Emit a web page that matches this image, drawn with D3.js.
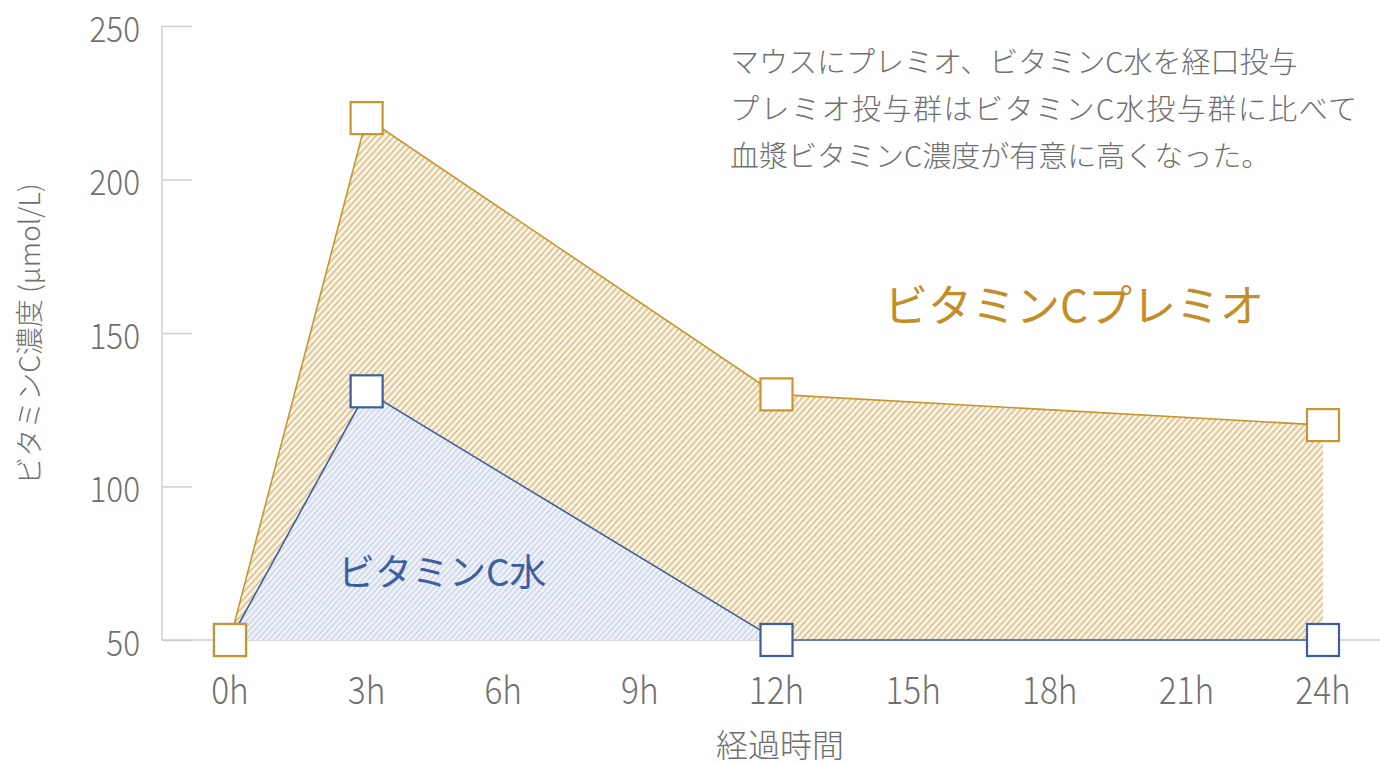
<!DOCTYPE html>
<html><head><meta charset="utf-8">
<script src="https://cdn.jsdelivr.net/npm/d3@7"></script>
<style>
html,body{margin:0;padding:0;background:#fff;}
svg{display:block;font-family:"Noto Sans CJK JP","Noto Sans",sans-serif;}
</style></head>
<body>
<svg id="chart" width="1380" height="765"></svg>
<script>
// ---- data ----
const hours = [0, 3, 12, 24];
const premioValues = [50, 220, 130, 120];
const waterValues = [50, 131, 50, 50];
const xTickValues = [0, 3, 6, 9, 12, 15, 18, 21, 24];
const yTickValues = [50, 100, 150, 200, 250];
const seriesNames = ["ビタミンCプレミオ", "ビタミンC水"];
const noteLines = [
  "マウスにプレミオ、ビタミンC水を経口投与",
  "プレミオ投与群はビタミンC水投与群に比べて",
  "血漿ビタミンC濃度が有意に高くなった。"
];
const xTitle = "経過時間";
const yTitle = "ビタミンC濃度 (μmol/L)";

const gold = "#C8962E", blue = "#3D5D9D", axisGray = "#cfcfcf", textGray = "#707070";

const svg = d3.select("#chart");
const x = d3.scaleLinear().domain([0, 24]).range([230, 1323]);
const y = d3.scaleLinear().domain([50, 250]).range([640, 26]);
const axisX0 = 162;

// patterns
const defs = svg.append("defs");
function hatch(id, bg, line, size, w) {
  const p = defs.append("pattern").attr("id", id).attr("patternUnits", "userSpaceOnUse")
    .attr("width", size).attr("height", size).attr("patternTransform", "rotate(42)");
  p.append("rect").attr("width", size).attr("height", size).attr("fill", bg);
  p.append("line").attr("x1", size / 2).attr("x2", size / 2).attr("y1", 0).attr("y2", size)
    .attr("stroke", line).attr("stroke-width", w);
}
hatch("hGold", "#FCF8F0", "#DBC28A", 4.6, 1.9);
hatch("hBlue", "#F1F4F9", "#C6D1E4", 4.2, 1.4);

// y axis (ticks inward)
const yAxis = d3.axisRight(y).tickValues(yTickValues).tickSize(30).tickFormat("");
const gy = svg.append("g").attr("transform", `translate(${axisX0},0)`).call(yAxis);
gy.select(".domain").attr("stroke", axisGray).attr("stroke-width", 1.5).attr("d", `M0,${y(250)}V${y(50)}`);
gy.selectAll(".tick line").attr("stroke", axisGray).attr("stroke-width", 1.5);
svg.append("g").selectAll("text").data(yTickValues).join("text")
  .attr("transform", d => `translate(140,${y(d) + 3}) scale(0.9,1)`).attr("dy", "0.36em").attr("text-anchor", "end")
  .attr("font-size", 35).attr("font-weight", 300).attr("fill", textGray).text(d => d);

// x axis
svg.append("line").attr("x1", axisX0).attr("x2", 1380).attr("y1", y(50)).attr("y2", y(50))
  .attr("stroke", axisGray).attr("stroke-width", 1.5);
svg.append("g").selectAll("line").data(xTickValues.filter(d => d > 0)).join("line")
  .attr("x1", d => x(d)).attr("x2", d => x(d)).attr("y1", y(50) - 9).attr("y2", y(50))
  .attr("stroke", axisGray).attr("stroke-width", 1.5);
svg.append("g").selectAll("text").data(xTickValues).join("text")
  .attr("transform", d => `translate(${x(d)},690) scale(0.88,1)`).attr("dy", "0.36em").attr("text-anchor", "middle")
  .attr("font-size", 38).attr("font-weight", 300).attr("fill", textGray).text(d => d + "h");

svg.append("text").attr("x", 780).attr("y", 745).attr("dy", "0.36em").attr("text-anchor", "middle")
  .attr("font-size", 32).attr("font-weight", 300).attr("fill", textGray).text(xTitle);
svg.append("text").attr("transform", `translate(30,${334}) rotate(-90)`).attr("dy", "0.36em")
  .attr("text-anchor", "middle").attr("font-size", 28).attr("font-weight", 300).attr("fill", textGray).text(yTitle);

// areas
const premio = hours.map((h, i) => ({ h, v: premioValues[i] }));
const water = hours.map((h, i) => ({ h, v: waterValues[i] }));
const area = d3.area().x(d => x(d.h)).y0(y(50)).y1(d => y(d.v));
const line = d3.line().x(d => x(d.h)).y(d => y(d.v));

svg.append("path").attr("d", area(premio)).attr("fill", "url(#hGold)");
svg.append("path").attr("d", line(premio)).attr("fill", "none").attr("stroke", gold).attr("stroke-width", 1.6);
svg.append("path").attr("d", area(water)).attr("fill", "url(#hBlue)");
svg.append("path").attr("d", line(water)).attr("fill", "none").attr("stroke", blue).attr("stroke-width", 1.6);

// markers
const ms = 32;
function markers(data, color) {
  svg.append("g").selectAll("rect").data(data).join("rect")
    .attr("x", d => x(d.h) - ms / 2).attr("y", d => y(d.v) - ms / 2)
    .attr("width", ms).attr("height", ms).attr("fill", "#fff")
    .attr("stroke", color).attr("stroke-width", 2.2);
}
markers(water, blue);
markers(premio, gold);

// labels
svg.append("text").attr("x", 884).attr("y", 306).attr("dy", "0.36em").attr("font-size", 44)
  .attr("fill", "#C48D2A").text(seriesNames[0]);
svg.append("text").attr("x", 338).attr("y", 573).attr("dy", "0.36em").attr("font-size", 37)
  .attr("fill", "#3F5E9E").text(seriesNames[1]);

// note
svg.append("g").selectAll("text").data(noteLines).join("text")
  .attr("x", 730).attr("y", (d, i) => 63 + i * 47).attr("dy", "0.36em")
  .attr("font-size", 29).attr("font-weight", 300).attr("fill", textGray)
  .attr("letter-spacing", (d, i) => i === 1 ? 1.5 : 0).text(d => d);
</script>
</body></html>
